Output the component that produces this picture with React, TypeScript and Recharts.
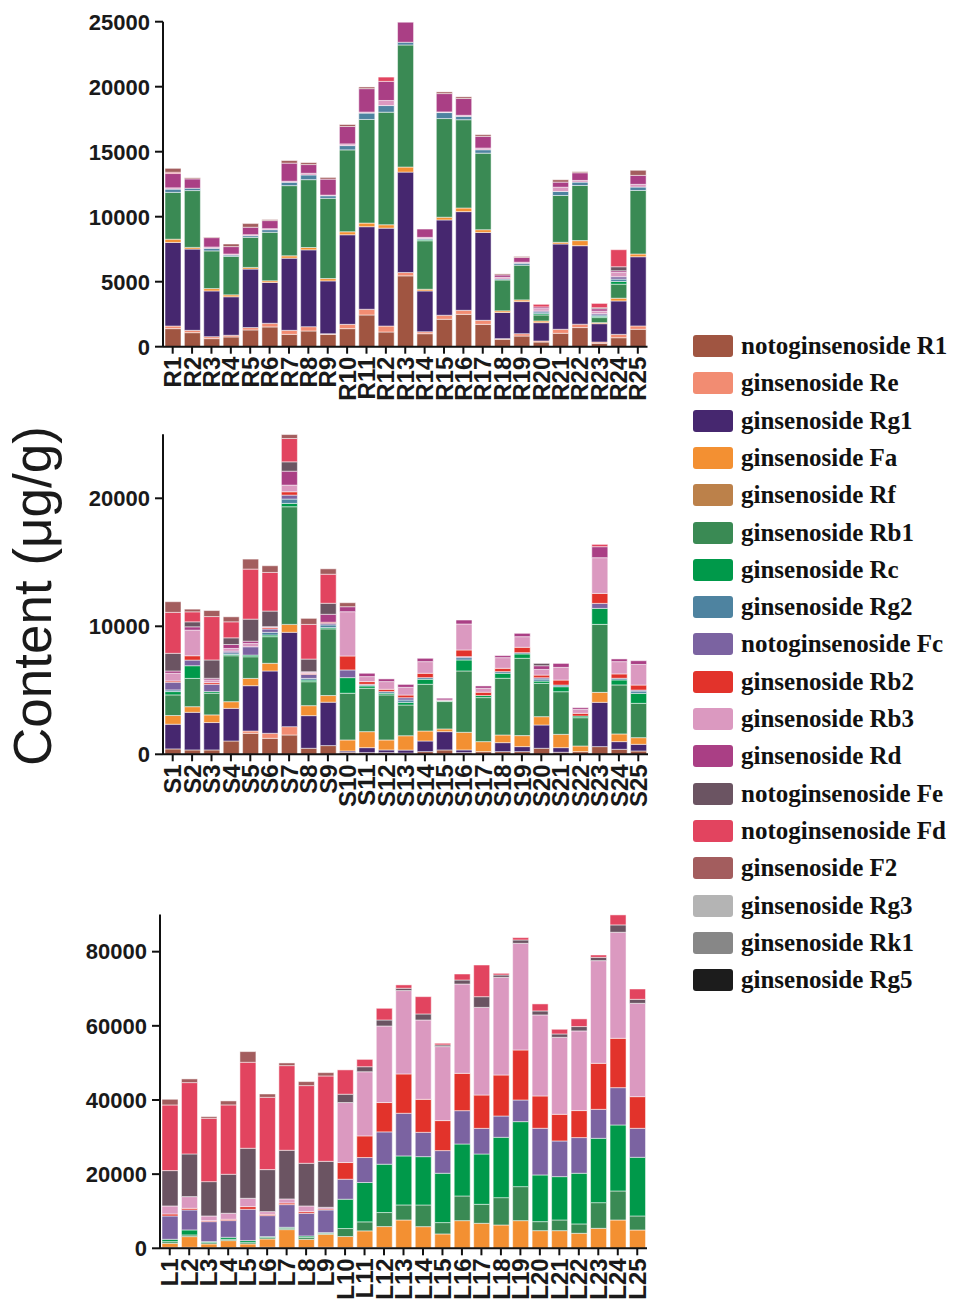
import React from "react";
import { BarChart, Bar, XAxis, YAxis } from "recharts";

// ---------- series definitions ----------
const seriesNames = [
  "notoginsenoside R1", "ginsenoside Re", "ginsenoside Rg1", "ginsenoside Fa",
  "ginsenoside Rf", "ginsenoside Rb1", "ginsenoside Rc", "ginsenoside Rg2",
  "notoginsenoside Fc", "ginsenoside Rb2", "ginsenoside Rb3", "ginsenoside Rd",
  "notoginsenoside Fe", "notoginsenoside Fd", "ginsenoside F2", "ginsenoside Rg3",
  "ginsenoside Rk1", "ginsenoside Rg5",
];
const seriesKeys = ["R1", "Re", "Rg1", "Fa", "Rf", "Rb1", "Rc", "Rg2", "Fc", "Rb2", "Rb3", "Rd", "Fe", "Fd", "F2", "Rg3", "Rk1", "Rg5"];
const seriesColors = [
  "#A05541", "#F28C72", "#46276F", "#F39032", "#BC814A", "#3A8A54", "#00994A", "#4E83A0",
  "#7B63A1", "#E2332B", "#DB99C0", "#AA3F85", "#6B5462", "#E2445F", "#A35D5E", "#B4B4B4",
  "#878787", "#1C1C1C",
];

const zeros = [0, 0, 0, 0, 0, 0, 0, 0, 0, 0, 0, 0, 0, 0, 0, 0, 0, 0, 0, 0, 0, 0, 0, 0, 0];

// ---------- categories ----------
const rCats = ["R1", "R2", "R3", "R4", "R5", "R6", "R7", "R8", "R9", "R10", "R11", "R12", "R13", "R14", "R15", "R16", "R17", "R18", "R19", "R20", "R21", "R22", "R23", "R24", "R25"];
const sCats = ["S1", "S2", "S3", "S4", "S5", "S6", "S7", "S8", "S9", "S10", "S11", "S12", "S13", "S14", "S15", "S16", "S17", "S18", "S19", "S20", "S21", "S22", "S23", "S24", "S25"];
const lCats = ["L1", "L2", "L3", "L4", "L5", "L6", "L7", "L8", "L9", "L10", "L11", "L12", "L13", "L14", "L15", "L16", "L17", "L18", "L19", "L20", "L21", "L22", "L23", "L24", "L25"];

// ---------- R samples ----------
const rR1 = [1390, 1080, 620, 750, 1290, 1520, 950, 1210, 950, 1390, 2440, 1130, 5450, 1000, 2110, 2490, 1720, 570, 820, 360, 1030, 1470, 260, 690, 1340];
const rRe = [200, 180, 150, 130, 180, 280, 310, 330, 50, 330, 440, 460, 260, 150, 310, 310, 310, 50, 180, 80, 310, 260, 100, 260, 260];
const rRg1 = [6430, 6250, 3520, 2960, 4500, 3140, 5550, 5910, 4060, 6890, 6350, 7530, 7720, 3140, 7330, 7590, 6760, 2010, 2470, 1410, 6560, 6040, 1410, 2570, 5320];
const rFa = [250, 130, 180, 150, 130, 130, 180, 180, 180, 230, 280, 260, 390, 130, 210, 280, 210, 130, 130, 130, 130, 390, 80, 210, 210];
const rRb1 = [3600, 4370, 2900, 2960, 2310, 3730, 5400, 5220, 6170, 6300, 7970, 8660, 9390, 3730, 7590, 6790, 5890, 2370, 2670, 460, 3600, 4240, 390, 1080, 4890];
const rRc = [0, 0, 0, 0, 0, 0, 0, 0, 0, 0, 0, 0, 0, 80, 0, 0, 0, 0, 0, 100, 0, 0, 100, 210, 0];
const rRg2 = [250, 180, 200, 100, 130, 200, 260, 360, 200, 330, 490, 510, 210, 100, 460, 260, 260, 80, 150, 130, 310, 260, 100, 180, 260];
const rFc = [0, 0, 0, 0, 0, 0, 0, 0, 0, 0, 0, 0, 0, 0, 0, 0, 0, 0, 0, 80, 0, 0, 100, 180, 0];
const rRb3 = [100, 0, 100, 80, 80, 80, 80, 130, 50, 130, 80, 390, 0, 80, 50, 80, 130, 130, 80, 180, 330, 130, 200, 330, 210];
const rRd = [1100, 720, 720, 570, 570, 620, 1390, 670, 1230, 1340, 1800, 1470, 1540, 640, 1410, 1290, 900, 180, 360, 130, 390, 590, 180, 130, 690];
const rFe = [0, 0, 0, 0, 0, 0, 0, 0, 0, 0, 0, 0, 0, 0, 0, 0, 0, 0, 0, 0, 0, 0, 80, 310, 0];
const rFd = [100, 0, 0, 0, 0, 0, 0, 0, 0, 0, 0, 330, 0, 0, 0, 0, 0, 0, 0, 200, 0, 0, 330, 1310, 0];
const rF2 = [300, 80, 50, 200, 280, 80, 200, 150, 130, 150, 130, 0, 0, 0, 130, 130, 130, 80, 80, 0, 180, 80, 0, 0, 390];

// ---------- S samples ----------
const sR1 = [420, 340, 340, 1040, 1640, 1250, 1510, 470, 680, 160, 130, 130, 100, 210, 340, 130, 210, 210, 210, 470, 160, 210, 600, 390, 260];
const sRe = [0, 0, 0, 0, 180, 390, 650, 0, 0, 0, 0, 0, 0, 0, 0, 0, 0, 0, 0, 0, 0, 0, 0, 0, 0];
const sRg1 = [1930, 2940, 2140, 2550, 3540, 4870, 7370, 2550, 3390, 100, 390, 210, 230, 830, 1430, 210, 0, 700, 390, 1820, 360, 0, 3460, 600, 520];
const sFa = [680, 440, 600, 520, 570, 600, 620, 780, 520, 860, 1250, 780, 1120, 780, 210, 1380, 780, 600, 860, 650, 1040, 440, 780, 600, 520];
const sRb1 = [1610, 2210, 1690, 3590, 1690, 2080, 9190, 1870, 5210, 3650, 3390, 3520, 2400, 3650, 2140, 4790, 3440, 4430, 6040, 2600, 3330, 2210, 5310, 3830, 2680];
const sRc = [260, 990, 130, 100, 130, 130, 260, 130, 100, 1220, 180, 130, 210, 390, 50, 860, 160, 390, 340, 180, 390, 130, 1250, 390, 780];
const sRg2 = [130, 0, 0, 130, 0, 210, 340, 130, 210, 0, 80, 130, 180, 130, 0, 180, 0, 130, 100, 160, 130, 0, 0, 130, 180];
const sFc = [600, 440, 570, 130, 650, 260, 310, 310, 130, 600, 50, 0, 180, 0, 0, 80, 0, 0, 0, 100, 0, 0, 390, 0, 80];
const sRb2 = [100, 340, 130, 0, 0, 100, 260, 80, 80, 1090, 210, 180, 210, 340, 0, 520, 260, 260, 420, 210, 390, 210, 780, 340, 390];
const sRb3 = [600, 2000, 210, 210, 260, 80, 520, 80, 0, 3460, 390, 600, 600, 910, 80, 2030, 310, 830, 830, 440, 990, 310, 2790, 960, 1610];
const sRd = [180, 260, 130, 310, 180, 0, 1090, 50, 620, 390, 260, 210, 230, 260, 130, 310, 180, 160, 260, 290, 310, 130, 860, 210, 290];
const sFe = [1380, 390, 1430, 520, 1720, 1220, 730, 990, 860, 0, 0, 0, 0, 0, 0, 0, 0, 0, 0, 180, 0, 0, 0, 0, 0];
const sFd = [3200, 780, 3390, 1250, 3910, 3020, 1820, 2710, 2270, 0, 0, 0, 0, 0, 0, 0, 0, 0, 0, 0, 0, 0, 180, 0, 0];
const sF2 = [830, 210, 470, 390, 780, 520, 310, 470, 420, 310, 0, 0, 0, 0, 0, 0, 0, 0, 0, 0, 0, 0, 0, 0, 0];

// ---------- L samples ----------
const lRg1 = [270, 270, 180, 180, 180, 270, 100, 180, 270, 200, 200, 200, 0, 0, 0, 0, 0, 0, 0, 0, 0, 0, 0, 0, 0];
const lFa = [1080, 2880, 990, 1890, 990, 2250, 4940, 2250, 3510, 2970, 4500, 5660, 7640, 5840, 3870, 7460, 6740, 6290, 7460, 4760, 4760, 4050, 5390, 7640, 4940];
const lRb1 = [450, 450, 360, 360, 360, 360, 360, 540, 270, 2160, 2430, 3780, 4050, 5840, 3060, 6650, 5120, 7370, 9170, 2430, 2880, 2520, 6920, 7820, 3780];
const lRc = [630, 1350, 270, 540, 540, 270, 270, 360, 180, 7910, 10610, 13040, 13220, 13040, 13310, 14020, 13570, 16270, 17530, 12590, 11690, 13670, 17350, 17800, 15820];
const lFc = [6290, 5390, 5390, 4500, 8450, 5660, 6110, 6110, 6110, 5390, 6740, 8720, 11510, 6560, 6110, 8990, 6920, 5750, 5840, 12590, 9620, 9620, 7820, 10070, 7820];
const lRb2 = [540, 450, 270, 360, 720, 360, 450, 450, 270, 4500, 5840, 7910, 10610, 8900, 8090, 10070, 8990, 11060, 13490, 8720, 7190, 7280, 12410, 13310, 8540];
const lRb3 = [2160, 3150, 1260, 1620, 2250, 720, 1080, 1530, 450, 16180, 17300, 20650, 22480, 21400, 19960, 24090, 23640, 26340, 28770, 21850, 20770, 21490, 27690, 28600, 25170];
const lFe = [9530, 11510, 9260, 10520, 13490, 11330, 13130, 11510, 12400, 2250, 1350, 1620, 630, 1620, 450, 1080, 2880, 630, 900, 1080, 900, 1170, 900, 1980, 1080];
const lFd = [17710, 19240, 17080, 18700, 23190, 19500, 22830, 20950, 23020, 6560, 1980, 3150, 900, 4670, 450, 1620, 8540, 450, 630, 1890, 1260, 2070, 630, 2700, 2790];
const lF2 = [1530, 990, 450, 1080, 2880, 900, 720, 1080, 900, 0, 0, 0, 0, 0, 0, 0, 0, 0, 0, 0, 0, 0, 0, 0, 0];

// ---------- axis ticks ----------
const rTicks = [0, 5000, 10000, 15000, 20000, 25000];
const sTicks = [0, 10000, 20000];
const lTicks = [0, 20000, 40000, 60000, 80000];

// series arrays in legend (stack) order
const rSeries = [rR1, rRe, rRg1, rFa, zeros, rRb1, rRc, rRg2, rFc, zeros, rRb3, rRd, rFe, rFd, rF2, zeros, zeros, zeros];
const sSeries = [sR1, sRe, sRg1, sFa, zeros, sRb1, sRc, sRg2, sFc, sRb2, sRb3, sRd, sFe, sFd, sF2, zeros, zeros, zeros];
const lSeries = [zeros, zeros, lRg1, lFa, zeros, lRb1, lRc, zeros, lFc, lRb2, lRb3, zeros, lFe, lFd, lF2, zeros, zeros, zeros];

function buildData(cats: string[], series: number[][]) {
  return cats.map((c, i) => {
    const row: Record<string, any> = { name: c };
    seriesKeys.forEach((k, j) => {
      row[k] = series[j][i];
    });
    return row;
  });
}

const rData = buildData(rCats, rSeries);
const sData = buildData(sCats, sSeries);
const lData = buildData(lCats, lSeries);

const axisFont = "'Liberation Sans', Arial, Helvetica, sans-serif";
const tickStyle = { fontSize: 22, fontWeight: 700, fill: "#1a1a1a", fontFamily: axisFont };

const XTick = (props: any) => {
  const { x, y, payload } = props;
  return (
    <text
      x={x}
      y={y}
      transform={`rotate(-90 ${x} ${y})`}
      textAnchor="end"
      dy="0.36em"
      fontSize={24}
      fontWeight={700}
      fill="#1a1a1a"
      fontFamily={axisFont}
    >
      {payload.value}
    </text>
  );
};

type ChartProps = {
  top: number;
  height: number;
  data: any[];
  domain: [number, number];
  ticks: number[];
  margin: { top: number; right: number; bottom: number; left: number };
  xHeight: number;
};

function StackChart({ top, height, data, domain, ticks, margin, xHeight }: ChartProps) {
  return (
    <div style={{ position: "absolute", left: 0, top, width: 660, height }}>
      <BarChart width={660} height={height} data={data} margin={margin}>
        <XAxis
          dataKey="name"
          interval={0}
          tick={<XTick />}
          tickSize={7}
          tickMargin={3}
          height={xHeight}
          axisLine={{ stroke: "#111", strokeWidth: 2 }}
          tickLine={{ stroke: "#111", strokeWidth: 2 }}
        />
        <YAxis
          type="number"
          domain={domain}
          ticks={ticks}
          interval={0}
          width={80}
          tickSize={8}
          tickMargin={5}
          tick={tickStyle}
          axisLine={{ stroke: "#111", strokeWidth: 2 }}
          tickLine={{ stroke: "#111", strokeWidth: 2 }}
        />
        {seriesKeys.map((k, j) => (
          <Bar
            key={k}
            dataKey={k}
            name={seriesNames[j]}
            stackId="a"
            fill={seriesColors[j]}
            stroke="#ffffff"
            strokeWidth={0.5}
            barSize={16}
            isAnimationActive={false}
          />
        ))}
      </BarChart>
    </div>
  );
}

export default function App() {
  return (
    <div style={{ position: "absolute", left: 0, top: 0, width: 955, height: 1303, background: "#fff", overflow: "hidden" }}>
      <StackChart
        top={0}
        height={420}
        data={rData}
        domain={[0, 25000]}
        ticks={rTicks}
        margin={{ top: 21.7, right: 12.5, bottom: 13.3, left: 83 }}
        xHeight={60}
      />
      <StackChart
        top={414}
        height={420}
        data={sData}
        domain={[0, 25000]}
        ticks={sTicks}
        margin={{ top: 20.3, right: 12, bottom: 19.7, left: 83 }}
        xHeight={60}
      />
      <StackChart
        top={890}
        height={413}
        data={lData}
        domain={[0, 90000]}
        ticks={lTicks}
        margin={{ top: 24.6, right: 13, bottom: 4.7, left: 80 }}
        xHeight={50}
      />
      <svg style={{ position: "absolute", left: 0, top: 0 }} width={80} height={1303}>
        <text
          x={51}
          y={596}
          transform="rotate(-90 51 596)"
          textAnchor="middle"
          fontSize={53}
          fill="#1a1a1a"
          fontFamily={axisFont}
        >
          Content (μg/g)
        </text>
      </svg>
      {seriesNames.map((n, i) => (
        <div
          key={n}
          style={{
            position: "absolute",
            left: 693,
            top: 346 + i * 37.3 - 18,
            height: 36,
            display: "flex",
            alignItems: "center",
            whiteSpace: "nowrap",
          }}
        >
          <div style={{ width: 40, height: 22, borderRadius: 3, background: seriesColors[i] }} />
          <span
            style={{
              marginLeft: 8,
              fontFamily: "'Liberation Serif', 'Times New Roman', serif",
              fontWeight: 700,
              fontSize: 25,
              color: "#111",
            }}
          >
            {n}
          </span>
        </div>
      ))}
    </div>
  );
}
